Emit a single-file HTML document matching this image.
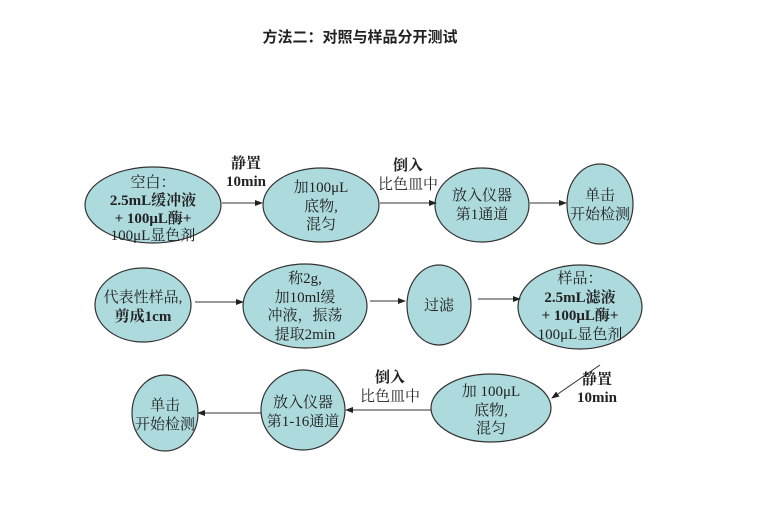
<!DOCTYPE html>
<html><head><meta charset="utf-8"><style>
html,body{margin:0;padding:0;background:#fff;}
svg text{font-family:"Liberation Serif","Noto Serif CJK SC",serif;font-size:15px;fill:#222;text-anchor:middle;}
</style></head><body>
<svg width="764" height="500" viewBox="0 0 764 500" xmlns="http://www.w3.org/2000/svg">
<defs><marker id="a" markerWidth="8" markerHeight="8" refX="7" refY="4" orient="auto" markerUnits="userSpaceOnUse"><path d="M0,1 L8,4 L0,7z" fill="#222"/></marker></defs>
<text x="360" y="42" style="font-family:'Liberation Sans','Noto Sans CJK SC',sans-serif;font-size:15px;font-weight:bold">方法二：对照与样品分开测试</text>
<g fill="#addadd" stroke="#333" stroke-width="1.2">
<ellipse cx="153" cy="205" rx="68" ry="38"/>
<ellipse cx="321" cy="205" rx="58" ry="37"/>
<ellipse cx="482" cy="205" rx="47" ry="37"/>
<ellipse cx="600" cy="204" rx="33" ry="40"/>
<ellipse cx="143" cy="305" rx="48" ry="37"/>
<ellipse cx="305" cy="306" rx="62" ry="42"/>
<ellipse cx="439" cy="305" rx="32" ry="40"/>
<ellipse cx="580" cy="307" rx="62" ry="42"/>
<ellipse cx="491" cy="408" rx="60" ry="34"/>
<ellipse cx="303" cy="410" rx="42" ry="40"/>
<ellipse cx="165" cy="413" rx="33" ry="38"/>
</g>
<g stroke="#333" stroke-width="1" marker-end="url(#a)">
<line x1="222" y1="203" x2="262" y2="203"/>
<line x1="380" y1="203" x2="436" y2="203"/>
<line x1="530" y1="203" x2="566" y2="203"/>
<line x1="195" y1="302" x2="243" y2="302"/>
<line x1="370" y1="301" x2="405" y2="301"/>
<line x1="478" y1="299" x2="520" y2="299"/>
<line x1="600" y1="365" x2="552" y2="398"/>
<line x1="431" y1="410" x2="346" y2="410"/>
<line x1="261" y1="413" x2="198" y2="413"/>
</g>
<g>
<text x="153" y="187">空白：</text>
<text x="153" y="205" font-weight="bold">2.5mL缓冲液</text>
<text x="153" y="223" font-weight="bold">+ 100μL酶+</text>
<text x="153" y="240">100μL显色剂</text>
<text x="321" y="192">加100μL</text>
<text x="321" y="211">底物,</text>
<text x="321" y="229">混匀</text>
<text x="482" y="200">放入仪器</text>
<text x="482" y="219">第1通道</text>
<text x="600" y="200">单击</text>
<text x="600" y="219">开始检测</text>
<text x="246" y="168" font-weight="bold">静置</text>
<text x="246" y="186" font-weight="bold">10min</text>
<text x="408" y="170" font-weight="bold">倒入</text>
<text x="408" y="189">比色皿中</text>
<text x="143" y="302">代表性样品,</text>
<text x="143" y="321" font-weight="bold">剪成1cm</text>
<text x="305" y="283">称2g,</text>
<text x="305" y="302">加10ml缓</text>
<text x="305" y="320">冲液，振荡</text>
<text x="305" y="339">提取2min</text>
<text x="439" y="310">过滤</text>
<text x="580" y="283">样品：</text>
<text x="580" y="302" font-weight="bold">2.5mL滤液</text>
<text x="580" y="320" font-weight="bold">+ 100μL酶+</text>
<text x="580" y="339">100μL显色剂</text>
<text x="491" y="396">加 100μL</text>
<text x="491" y="415">底物,</text>
<text x="491" y="433">混匀</text>
<text x="303" y="407">放入仪器</text>
<text x="303" y="426">第1-16通道</text>
<text x="165" y="410">单击</text>
<text x="165" y="429">开始检测</text>
<text x="597" y="384" font-weight="bold">静置</text>
<text x="597" y="402" font-weight="bold">10min</text>
<text x="390" y="382" font-weight="bold">倒入</text>
<text x="390" y="401">比色皿中</text>
</g>
</svg>
</body></html>
